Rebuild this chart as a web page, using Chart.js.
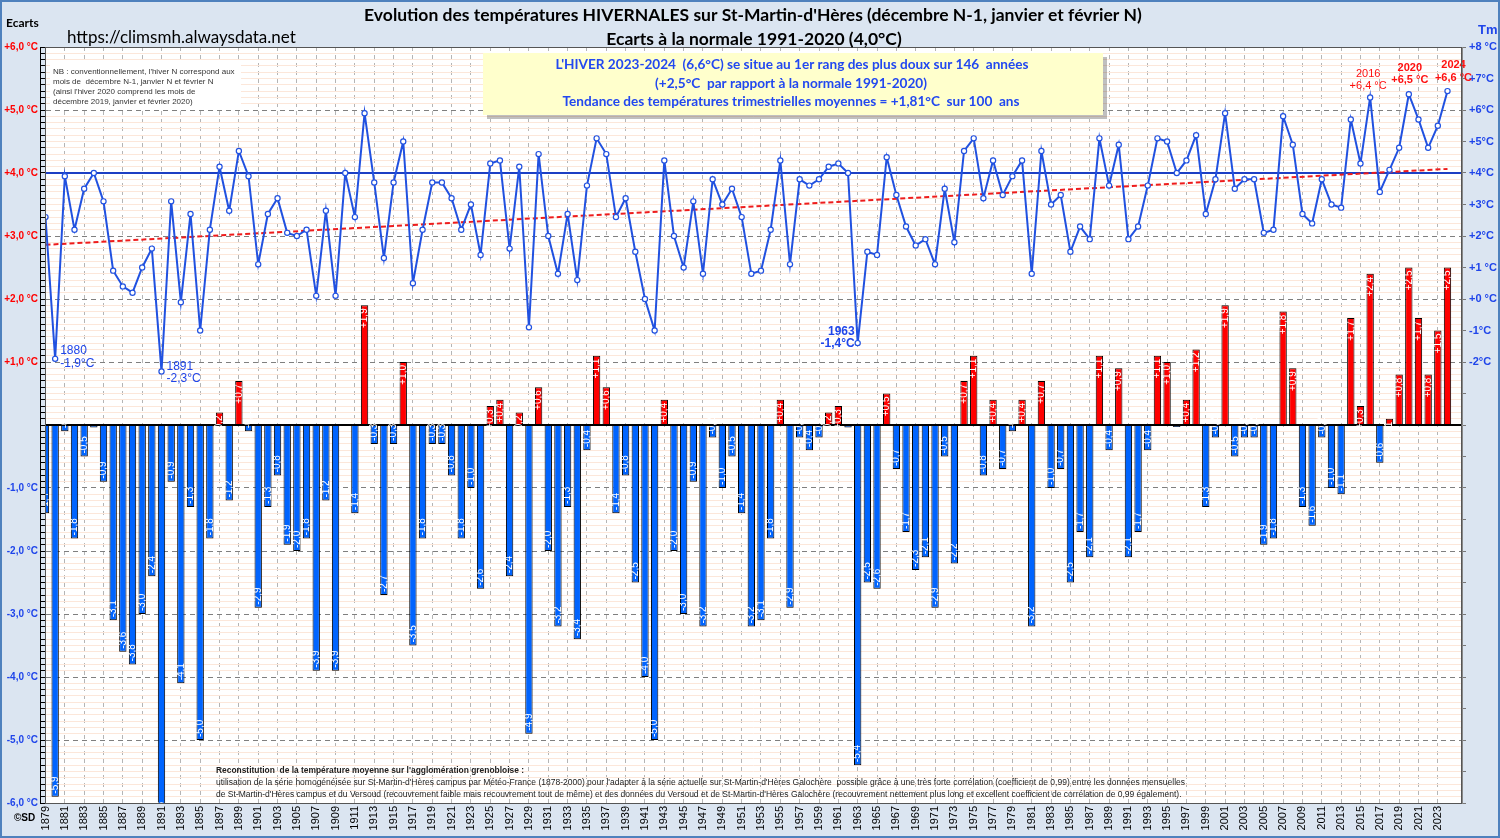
<!DOCTYPE html>
<html>
<head>
<meta charset="utf-8">
<script src="https://cdn.jsdelivr.net/npm/chart.js@4.4.1/dist/chart.umd.min.js"></script>
<style>
html, body { margin: 0; padding: 0; background: #dbe5f1; }
canvas { display: block; }
</style>
</head>
<body>
<canvas id="chartHiver" width="1500" height="838"></canvas>
<script>
// ecarts a la normale 1991-2020 (hiver N = dec N-1, janv N, fev N)
const firstYear = 1879;
const anomalies = [
  -1.4, -5.9, -0.1, -1.8, -0.5, -0.04, -0.9, -3.1, -3.6, -3.8,   // 1879-1888
  -3.0, -2.4, -6.3, -0.9, -4.1, -1.3, -5.0, -1.8, 0.2, -1.2,     // 1889-1898
  0.7, -0.1, -2.9, -1.3, -0.8, -1.9, -2.0, -1.8, -3.9, -1.2,     // 1899-1908
  -3.9, 0.0, -1.4, 1.9, -0.3, -2.7, -0.3, 1.0, -3.5, -1.8,       // 1909-1918
  -0.3, -0.3, -0.8, -1.8, -1.0, -2.6, 0.3, 0.4, -2.4, 0.2,       // 1919-1928
  -4.9, 0.6, -2.0, -3.2, -1.3, -3.4, -0.4, 1.1, 0.6, -1.4,       // 1929-1938
  -0.8, -2.5, -4.0, -5.0, 0.4, -2.0, -3.0, -0.9, -3.2, -0.2,     // 1939-1948
  -1.0, -0.5, -1.4, -3.2, -3.1, -1.8, 0.4, -2.9, -0.2, -0.4,     // 1949-1958
  -0.2, 0.2, 0.3, -0.04, -5.4, -2.5, -2.6, 0.5, -0.7, -1.7,      // 1959-1968
  -2.3, -2.1, -2.9, -0.5, -2.2, 0.7, 1.1, -0.8, 0.4, -0.7,       // 1969-1978
  -0.1, 0.4, -3.2, 0.7, -1.0, -0.7, -2.5, -1.7, -2.1, 1.1,       // 1979-1988
  -0.4, 0.9, -2.1, -1.7, -0.4, 1.1, 1.0, -0.03, 0.4, 1.2,        // 1989-1998
  -1.3, -0.2, 1.9, -0.5, -0.2, -0.2, -1.9, -1.8, 1.8, 0.9,       // 1999-2008
  -1.3, -1.6, -0.2, -1.0, -1.1, 1.7, 0.3, 2.4, -0.6, 0.1,        // 2009-2018
  0.8, 2.5, 1.7, 0.8, 1.5, 2.5                                   // 2019-2024
];
// temperature moyenne trimestrielle (Tm)
const tm = [
  2.6, -1.9, 3.9, 2.2, 3.5, 4.0, 3.1, 0.9, 0.4, 0.2,
  1.0, 1.6, -2.3, 3.1, -0.1, 2.7, -1.0, 2.2, 4.2, 2.8,
  4.7, 3.9, 1.1, 2.7, 3.2, 2.1, 2.0, 2.2, 0.1, 2.8,
  0.1, 4.0, 2.6, 5.9, 3.7, 1.3, 3.7, 5.0, 0.5, 2.2,
  3.7, 3.7, 3.2, 2.2, 3.0, 1.4, 4.3, 4.4, 1.6, 4.2,
  -0.9, 4.6, 2.0, 0.8, 2.7, 0.6, 3.6, 5.1, 4.6, 2.6,
  3.2, 1.5, 0.0, -1.0, 4.4, 2.0, 1.0, 3.1, 0.8, 3.8,
  3.0, 3.5, 2.6, 0.8, 0.9, 2.2, 4.4, 1.1, 3.8, 3.6,
  3.8, 4.2, 4.3, 4.0, -1.4, 1.5, 1.4, 4.5, 3.3, 2.3,
  1.7, 1.9, 1.1, 3.5, 1.8, 4.7, 5.1, 3.2, 4.4, 3.3,
  3.9, 4.4, 0.8, 4.7, 3.0, 3.3, 1.5, 2.3, 1.9, 5.1,
  3.6, 4.9, 1.9, 2.3, 3.6, 5.1, 5.0, 4.0, 4.4, 5.2,
  2.7, 3.8, 5.9, 3.5, 3.8, 3.8, 2.1, 2.2, 5.8, 4.9,
  2.7, 2.4, 3.8, 3.0, 2.9, 5.7, 4.3, 6.4, 3.4, 4.1,
  4.8, 6.5, 5.7, 4.8, 5.5, 6.6
];
const normale = 4.0;
const trendYears = [1879, 2024];
const trendValues = [1.72, 4.13];
const tmTickValues = [8, 7, 6, 5, 4, 3, 2, 1, 0, -1, -2];
const tmTickLabels = ['+8 °C', '+7°C', '+6°C', '+5°C', '+4°C', '+3°C', '+2°C', '+1 °C', '+0 °C', '-1°C', '-2°C'];
const labelYears = [1880, 1891, 1963, 2016, 2020, 2024];

const years = anomalies.map((v, i) => firstYear + i);
const tickYears = years.filter((y, i) => i % 2 === 0);

const BLUE_BAR = '#0064ff';
const RED_BAR = '#ff0000';
const BLUE_LINE = '#2151e0';
const TXT_BLUE = '#1f45ea';

function frNum(v, d) { return v.toFixed(d).replace('.', ','); }
function signed(v, d) { return (v > 0 ? '+' : '') + frNum(v, d); }

const fondPlugin = {
  id: 'fond',
  beforeDraw(chart) {
    const { ctx, chartArea: a } = chart;
    ctx.save();
    ctx.fillStyle = '#dbe5f1';
    ctx.fillRect(0, 0, chart.width, chart.height);
    ctx.fillStyle = '#ffffff';
    ctx.fillRect(a.left, a.top, a.right - a.left, a.bottom - a.top);
    ctx.restore();
  },
  beforeDatasetsDraw(chart) {
    const { ctx, chartArea: a, scales } = chart;
    const y = scales.yTm.getPixelForValue(normale);
    ctx.save();
    ctx.strokeStyle = '#1c3fc4';
    ctx.lineWidth = 2;
    ctx.beginPath();
    ctx.moveTo(a.left, y);
    ctx.lineTo(a.right, y);
    ctx.stroke();
    ctx.restore();
  }
};

const etiquettesPlugin = {
  id: 'etiquettes',
  afterDatasetsDraw(chart) {
    const { ctx, chartArea: a, scales } = chart;
    // ligne du zero
    const y0 = scales.y.getPixelForValue(0);
    ctx.save();
    ctx.strokeStyle = '#000';
    ctx.lineWidth = 2;
    ctx.beginPath();
    ctx.moveTo(a.left, y0);
    ctx.lineTo(a.right, y0);
    ctx.stroke();
    ctx.restore();

    // valeurs dans les barres
    const meta = chart.getDatasetMeta(2);
    ctx.save();
    ctx.beginPath();
    ctx.rect(a.left, a.top, a.right - a.left, a.bottom - a.top);
    ctx.clip();
    ctx.fillStyle = '#ffffff';
    ctx.font = "10px 'Liberation Sans Narrow', 'Liberation Sans', Arial";
    ctx.textBaseline = 'middle';
    meta.data.forEach((bar, i) => {
      const v = anomalies[i];
      if (Math.abs(v) < 0.05) return;
      ctx.save();
      ctx.translate(bar.x, bar.y);
      ctx.rotate(-Math.PI / 2);
      if (v < 0) { ctx.textAlign = 'left'; ctx.fillText(signed(v, 1), 3, 0); }
      else { ctx.textAlign = 'right'; ctx.fillText(signed(v, 1), -3, 0); }
      ctx.restore();
    });
    ctx.restore();

    // annotations des records
    const lm = chart.getDatasetMeta(0);
    const styles = {
      1880: { dx: 5, dy: [-8, 5], align: 'left', color: TXT_BLUE, font: "12px 'Liberation Sans', Arial", unit: '°C' },
      1891: { dx: 5, dy: [-5, 7], align: 'left', color: TXT_BLUE, font: "12px 'Liberation Sans', Arial", unit: '°C' },
      1963: { dx: -3, dy: [-11, 1], align: 'right', color: TXT_BLUE, font: "bold 12px 'Liberation Sans', Arial", unit: '°C' },
      2016: { dx: -2, dy: [-23, -11], align: 'center', color: '#ff1010', font: "11px 'Liberation Sans', Arial", unit: ' °C' },
      2020: { dx: 1, dy: [-26, -14], align: 'center', color: '#ff1010', font: "bold 11px 'Liberation Sans', Arial", unit: ' °C' },
      2024: { dx: 6, dy: [-26, -13], align: 'center', color: '#ff1010', font: "bold 11px 'Liberation Sans', Arial", unit: ' °C' }
    };
    ctx.save();
    ctx.textBaseline = 'middle';
    labelYears.forEach(yr => {
      const i = years.indexOf(yr);
      const p = lm.data[i];
      const s = styles[yr];
      ctx.fillStyle = s.color;
      ctx.font = s.font;
      ctx.textAlign = s.align;
      ctx.fillText(String(yr), p.x + s.dx, p.y + s.dy[0]);
      ctx.fillText(signed(tm[i], 1) + s.unit, p.x + s.dx, p.y + s.dy[1]);
    });
    ctx.restore();
  },
  afterDraw(chart) {
    const { ctx, chartArea: a } = chart;
    ctx.save();
    // cadre de la zone de trace
    ctx.strokeStyle = '#555';
    ctx.lineWidth = 1;
    ctx.strokeRect(a.left + 0.5, a.top + 0.5, a.right - a.left - 1, a.bottom - a.top);
    // cadre exterieur
    ctx.strokeStyle = '#4f81bd';
    ctx.lineWidth = 2;
    ctx.strokeRect(1, 1, chart.width - 2, chart.height - 2);

    ctx.textBaseline = 'middle';
    // titres
    ctx.fillStyle = '#000';
    ctx.textAlign = 'center';
    ctx.font = "bold 17.5px Lato, 'Open Sans', Arial";
    ctx.fillText("Evolution des températures HIVERNALES sur St-Martin-d'Hères (décembre N-1, janvier et février N)", 753, 15, 790);
    ctx.fillText('Ecarts à la normale 1991-2020 (4,0°C)', 754, 39, 305);

    ctx.textAlign = 'left';
    ctx.font = "bold 12px Lato, Arial";
    ctx.fillText('Ecarts', 6, 23);
    ctx.font = "17px Lato, 'Open Sans', Arial";
    ctx.fillText('https://climsmh.alwaysdata.net', 67, 38, 240);
    ctx.font = "bold 10px 'Liberation Sans', Arial";
    ctx.fillText('©SD', 14, 818);
    ctx.fillStyle = TXT_BLUE;
    ctx.font = "bold 13px 'Liberation Sans', Arial";
    ctx.fillText('Tm', 1478, 30);

    // note NB
    ctx.fillStyle = '#ffffff';
    ctx.fillRect(50, 63, 191, 46);
    ctx.fillStyle = '#333';
    ctx.font = "8px 'Liberation Sans Narrow', 'Liberation Sans', Arial";
    ctx.fillText("NB : conventionnellement, l'hiver N correspond aux", 53, 72, 184);
    ctx.fillText('mois de  décembre N-1, janvier N et février N', 53, 82, 184);
    ctx.fillText("(ainsi l'hiver 2020 comprend les mois de", 53, 92, 184);
    ctx.fillText('décembre 2019, janvier et février 2020)', 53, 102, 184);

    // encadre jaune
    ctx.fillStyle = 'rgba(0,0,0,0.25)';
    ctx.fillRect(487, 57, 620, 62);
    ctx.fillStyle = '#ffffcc';
    ctx.fillRect(483, 53, 620, 62);
    ctx.fillStyle = '#2248f0';
    ctx.textAlign = 'center';
    ctx.font = "bold 13.6px Lato, 'Open Sans', Arial";
    ctx.fillText("L'HIVER 2023-2024  (6,6°C) se situe au 1er rang des plus doux sur 146  années", 792, 65, 474);
    ctx.fillText('(+2,5°C  par rapport à la normale 1991-2020)', 791, 84, 276);
    ctx.fillText('Tendance des températures trimestrielles moyennes = +1,81°C  sur 100  ans', 791, 102, 462);

    // note de reconstitution
    ctx.textAlign = 'left';
    ctx.fillStyle = '#222';
    ctx.font = "bold 8.5px 'Liberation Sans', Arial";
    ctx.fillText("Reconstitution  de la température moyenne sur l'agglomération grenobloise :", 216, 771, 308);
    ctx.font = "8.5px 'Liberation Sans', Arial";
    ctx.fillText("utilisation de la série homogénéisée sur St-Martin-d'Hères campus par Météo-France (1878-2000) pour l'adapter à la série actuelle sur St-Martin-d'Hères Galochère  possible grâce à une très forte corrélation (coefficient de 0,99) entre les données mensuelles", 216, 783, 1010);
    ctx.fillText("de St-Martin-d'Hères campus et du Versoud (recouvrement faible mais recouvrement tout de même) et des données du Versoud et de St-Martin-d'Hères Galochère (recouvrement nettement plus long et excellent coefficient de corrélation de 0,99 également).", 216, 795, 1016);
    ctx.restore();
  }
};

const barData = years.map((y, i) => ({ x: y, y: anomalies[i] }));
const tmData = years.map((y, i) => ({ x: y, y: tm[i] }));
const trendData = trendYears.map((y, i) => ({ x: y, y: trendValues[i] }));

const ctx = document.getElementById('chartHiver').getContext('2d');
const chartHiver = new Chart(ctx, {
  type: 'bar',
  data: {
    datasets: [
      {
        type: 'line',
        label: 'Tm',
        data: tmData,
        yAxisID: 'yTm',
        borderColor: BLUE_LINE,
        borderWidth: 2,
        pointRadius: 2.6,
        pointBackgroundColor: '#ffffff',
        pointBorderColor: BLUE_LINE,
        pointBorderWidth: 1.2,
        tension: 0,
        order: 0
      },
      {
        type: 'line',
        label: 'Tendance',
        data: trendData,
        yAxisID: 'yTm',
        borderColor: '#ee1c1c',
        borderWidth: 2,
        borderDash: [5, 3],
        pointRadius: 0,
        order: 1
      },
      {
        label: 'Ecarts',
        data: barData,
        yAxisID: 'y',
        backgroundColor: c => (c.raw && c.raw.y >= 0 ? RED_BAR : BLUE_BAR),
        borderColor: '#000',
        borderWidth: 1,
        categoryPercentage: 1,
        barPercentage: 0.76,
        order: 2
      }
    ]
  },
  options: {
    responsive: false,
    devicePixelRatio: 1,
    animation: false,
    layout: { padding: { left: 0, right: 0, top: 47, bottom: 0 } },
    plugins: { legend: { display: false }, tooltip: { enabled: false }, title: { display: false } },
    scales: {
      x: {
        type: 'linear',
        min: 1878.95,
        max: 2025.5,
        offset: false,
        afterBuildTicks: s => { s.ticks = tickYears.map(v => ({ value: v })); },
        afterFit: s => { s.height = 35; },
        ticks: {
          autoSkip: false,
          minRotation: 90,
          maxRotation: 90,
          padding: 3,
          color: '#000',
          font: { size: 11, family: "'Liberation Sans', Arial" },
          callback: v => String(v)
        },
        grid: { offset: false, color: '#b5b5b5', lineWidth: 1, drawTicks: false, borderDash: [4, 4] },
        border: { display: true, color: '#000', dash: [4, 4] }
      },
      y: {
        position: 'left',
        weight: 1,
        min: -6,
        max: 6,
        afterFit: s => { s.width = 40; },
        ticks: {
          stepSize: 1,
          padding: 2,
          font: { size: 10, weight: 'bold', family: "'Liberation Sans', Arial" },
          color: c => (c.tick.value > 0 ? '#ff0000' : '#1f45ea'),
          callback: v => (v === 0 ? '' : signed(v, 1) + ' °C')
        },
        grid: {
          color: c => (c.tick.value === 0 ? 'rgba(0,0,0,0)' : '#7f7f7f'),
          drawTicks: false,
          borderDash: [5, 4]
        },
        border: { display: true, color: '#000', dash: [5, 4] }
      },
      yGrid: {
        position: 'left',
        weight: 0,
        min: -6,
        max: 6,
        afterFit: s => { s.width = 5; },
        ticks: { display: false, stepSize: 0.1 },
        grid: {
          color: c => (Math.abs(c.tick.value - Math.round(c.tick.value)) < 1e-6 ? 'rgba(0,0,0,0)' : '#fce7da'),
          tickColor: '#000',
          tickLength: 5,
          lineWidth: 1
        },
        border: { display: false }
      },
      yTm: {
        position: 'right',
        min: -16,
        max: 8,
        afterFit: s => { s.width = 38; },
        ticks: {
          stepSize: 1,
          padding: 3,
          color: '#1f45ea',
          font: { size: 11, weight: 'bold', family: "'Liberation Sans', Arial" },
          callback: v => { const k = tmTickValues.indexOf(v); return k < 0 ? '' : tmTickLabels[k]; }
        },
        grid: { drawOnChartArea: false, tickLength: 4, color: '#777' },
        border: { display: true, color: '#888' }
      }
    }
  },
  plugins: [fondPlugin, etiquettesPlugin]
});
</script>
</body>
</html>
